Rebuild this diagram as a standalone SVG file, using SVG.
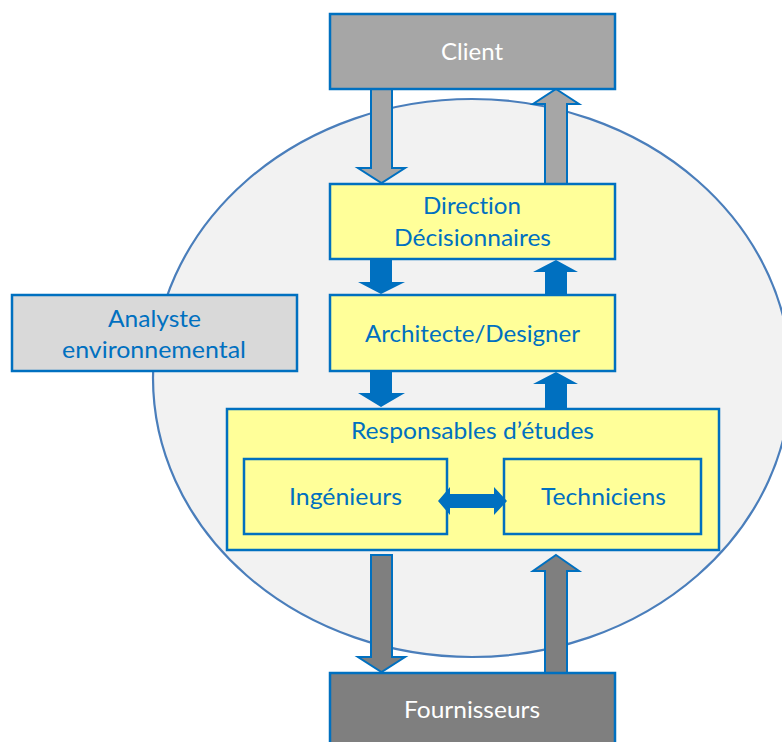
<svg xmlns="http://www.w3.org/2000/svg" width="782" height="742" viewBox="0 0 782 742">
<style>
.box{stroke:#0070c0;stroke-width:2.5}
.yel{fill:#ffff99}
.t{font-family:Lato,"Open Sans","Liberation Sans",sans-serif;font-size:23px;fill:#0070c0;text-anchor:middle;font-variant-ligatures:none;font-feature-settings:"liga" 0}
.w{fill:#ffffff}
.ga{fill:#a6a6a6;stroke:#0070c0;stroke-width:2;stroke-linejoin:miter}
.gd{fill:#7f7f7f;stroke:#0070c0;stroke-width:2;stroke-linejoin:miter}
.ba{fill:#0070c0}
</style>
<rect width="782" height="742" fill="#ffffff"/>
<ellipse id="environment" cx="472" cy="378" rx="319" ry="279" fill="#f2f2f2" stroke="#4a7ebb" stroke-width="2.2"/>
<g id="connectors">
<polygon class="ga" points="371,89 392,89 392,168 405,168 381.5,183 358,168 371,168"/>
<polygon class="ga" points="556,89 579,104 567,104 567,184 545,184 545,104 533,104"/>
<polygon class="ba" points="370,259 392,259 392,282 405,282 381,294 358,282 370,282"/>
<polygon class="ba" points="556,260 578,272 567,272 567,295 545,295 545,272 533,272"/>
<polygon class="ba" points="370,371 392,371 392,393 405,393 381,407 358,393 370,393"/>
<polygon class="ba" points="556,372 578,384 567,384 567,409 545,409 545,384 533,384"/>
<polygon class="gd" points="371,555 392,555 392,657 405,657 381.5,672 358,657 371,657"/>
<polygon class="gd" points="556,555 579,571 567,571 567,673 545,673 545,571 533,571"/>
</g>
<g id="client">
<rect class="box" x="330" y="14" width="285" height="75" fill="#a6a6a6"/>
<text class="t w" x="472" y="60" textLength="62" lengthAdjust="spacingAndGlyphs">Client</text>
</g>
<g id="direction">
<rect class="box yel" x="330" y="184" width="285" height="75"/>
<text class="t" x="472" y="214" textLength="98" lengthAdjust="spacingAndGlyphs">Direction</text>
<text class="t" x="472.5" y="246" textLength="157" lengthAdjust="spacingAndGlyphs">Décisionnaires</text>
</g>
<g id="architecte">
<rect class="box yel" x="330" y="295" width="285" height="76"/>
<text class="t" x="472.5" y="342" textLength="215" lengthAdjust="spacingAndGlyphs">Architecte/Designer</text>
</g>
<g id="analyste">
<rect class="box" x="12" y="295" width="285" height="76" fill="#d9d9d9"/>
<text class="t" x="154.5" y="327" textLength="93" lengthAdjust="spacingAndGlyphs">Analyste</text>
<text class="t" x="154" y="358" textLength="184" lengthAdjust="spacingAndGlyphs">environnemental</text>
</g>
<g id="responsables">
<rect class="box yel" x="227" y="409" width="492" height="141"/>
<text class="t" x="472.5" y="439" textLength="243" lengthAdjust="spacingAndGlyphs">Responsables d’études</text>
</g>
<g id="ingenieurs">
<rect class="box yel" x="244" y="459" width="203" height="75"/>
<text class="t" x="345.5" y="505" textLength="113" lengthAdjust="spacingAndGlyphs">Ingénieurs</text>
</g>
<g id="techniciens">
<rect class="box yel" x="504" y="459" width="197" height="75"/>
<text class="t" x="603.5" y="505" textLength="125" lengthAdjust="spacingAndGlyphs">Techniciens</text>
</g>
<g id="link-ing-tech">
<polygon class="ba" points="438,501 450,487 450,494 494,494 494,487 507,501 494,515 494,508 450,508 450,515"/>
</g>
<g id="fournisseurs">
<rect class="box" x="330" y="673" width="285" height="80" fill="#7f7f7f"/>
<text class="t w" x="472" y="718" textLength="136" lengthAdjust="spacingAndGlyphs">Fournisseurs</text>
</g>
</svg>
